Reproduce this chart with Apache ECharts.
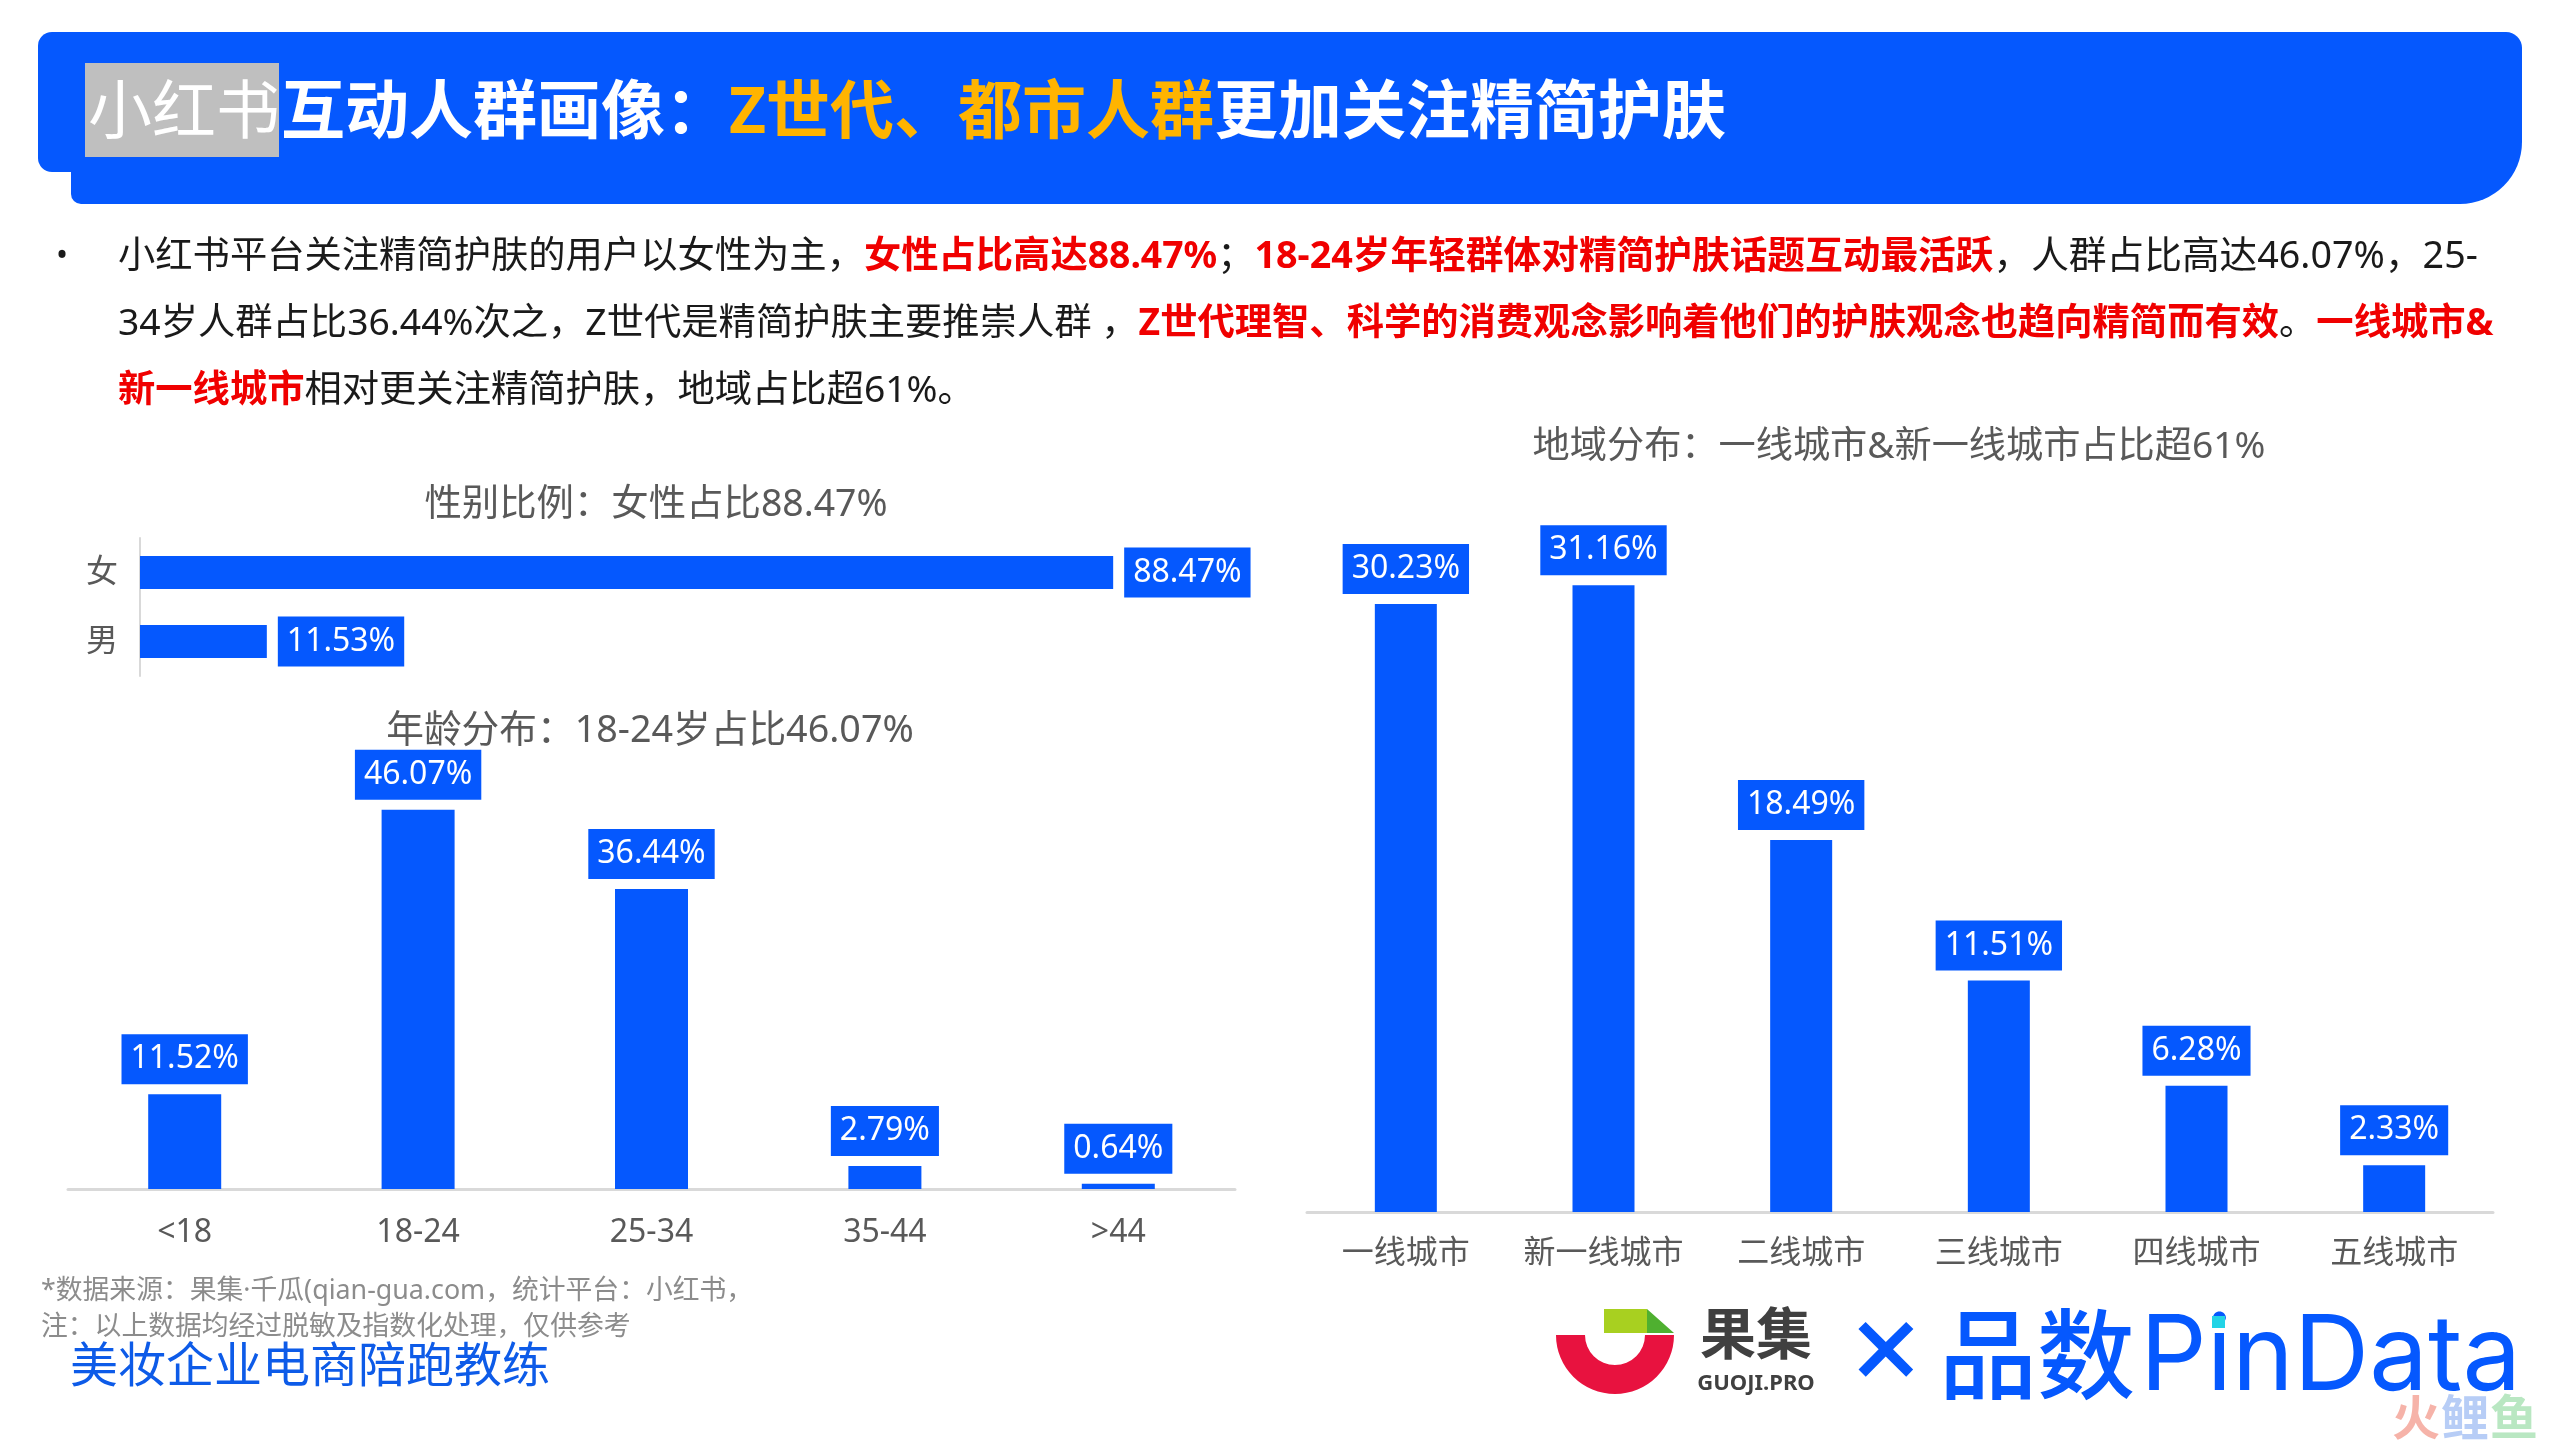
<!DOCTYPE html>
<html>
<head>
<meta charset="utf-8">
<style>
  html, body { margin: 0; padding: 0; background: #fff; }
  #chart { width: 2560px; height: 1440px; }
</style>
<script src="https://cdn.jsdelivr.net/npm/echarts@6/dist/echarts.min.js"></script>
</head>
<body>
<div id="chart"></div>
<script>
// data
var genderCats = ['女', '男'];
var genderVals = [88.47, 11.53];
var ageCats = ['<18', '18-24', '25-34', '35-44', '>44'];
var ageVals = [11.52, 46.07, 36.44, 2.79, 0.64];
var cityCats = ['一线城市', '新一线城市', '二线城市', '三线城市', '四线城市', '五线城市'];
var cityVals = [30.23, 31.16, 18.49, 11.51, 6.28, 2.33];

var BLUE = '#0558fe';
var FONT = '"Noto Sans","Noto Sans CJK SC",sans-serif';
var GREY = '#595959';

function txt(x, y, text, o) {
  o = o || {};
  return {
    type: 'text', x: x, y: y, z: o.z || 10,
    style: {
      text: text,
      fontFamily: o.family || FONT,
      fontSize: o.size || 38,
      fontWeight: o.weight || 'normal',
      fill: o.color || '#1a1a1a',
      align: o.align || 'left',
      verticalAlign: 'middle',
      rich: o.rich
    }
  };
}

// rich styles for the paragraph
function bodyRich(size) {
  return {
    k: { fontFamily: FONT, fontSize: size, fill: '#1a1a1a', color: '#1a1a1a' },
    r: { fontFamily: FONT, fontSize: size, fontWeight: 'bold', fill: '#f00000', color: '#f00000' },
    // the reference runs these two spans a little wider
    k2: { fontFamily: FONT, fontSize: 37.7, fill: '#1a1a1a', color: '#1a1a1a' },
    r2: { fontFamily: FONT, fontSize: 37.7, fontWeight: 'bold', fill: '#f00000', color: '#f00000' }
  };
}
var titleRich = {
  w: { fontFamily: FONT, fontSize: 64, fontWeight: 'bold', fill: '#fff', color: '#fff' },
  y: { fontFamily: FONT, fontSize: 64, fontWeight: 'bold', fill: '#ffb400', color: '#ffb400' }
};

var shapes = [
  // header band
  { type: 'rect', shape: { x: 71, y: 32, width: 2451, height: 172, r: [10, 16, 62, 10] }, style: { fill: BLUE } },
  { type: 'rect', shape: { x: 38, y: 32, width: 80, height: 140, r: [14, 0, 0, 14] }, style: { fill: BLUE } },
  { type: 'rect', shape: { x: 85, y: 63, width: 194, height: 94 }, style: { fill: '#bfbfbf' } },
  // guoji logo
  { type: 'sector', shape: { cx: 1615, cy: 1335, r: 59, r0: 30, startAngle: 0, endAngle: Math.PI }, style: { fill: '#e8123f' } },
  { type: 'rect', shape: { x: 1604, y: 1309, width: 43, height: 24 }, style: { fill: '#a8d020' } },
  { type: 'polygon', shape: { points: [[1647, 1309], [1647, 1333], [1674, 1333]] }, style: { fill: '#4fb030' } },
  // cyan dot of the i in PinData
  { type: 'rect', z: 11, shape: { x: 2212, y: 1316, width: 13, height: 12 }, style: { fill: '#22d3e6' } }
];

var BODY = 37.3;
var texts = [
  txt(88, 115, '小红书', { size: 64, color: '#fff' }),
  txt(281, 115, '{w|互动人群画像：}{y|Z世代、都市人群}{w|更加关注精简护肤}', { rich: titleRich, size: 64 }),

  txt(56, 257, '•', { size: 32 }),
  txt(118, 257, '{k|小红书平台关注精简护肤的用户以女性为主，}{r|女性占比高达88.47%}{k|；}{r2|18-24岁年轻群体对精简护肤话题互动最活跃}{k2|，人群占比高达46.07%，25-}', { rich: bodyRich(BODY) }),
  txt(118, 324, '{k|34岁人群占比36.44%次之，Z世代是精简护肤主要推崇人群 ，}{r|Z世代理智、科学的消费观念影响着他们的护肤观念也趋向精简而有效}{k|。}{r|一线城市&}', { rich: bodyRich(BODY) }),
  txt(118, 391, '{r|新一线城市}{k|相对更关注精简护肤，地域占比超61%。}', { rich: bodyRich(BODY) }),

  txt(656, 505, '性别比例：女性占比88.47%', { size: 37.4, color: GREY, align: 'center' }),
  txt(650, 731, '年龄分布：18-24岁占比46.07%', { size: 37.7, color: GREY, align: 'center' }),
  txt(1899, 447, '地域分布：一线城市&新一线城市占比超61%', { size: 37.2, color: GREY, align: 'center' }),

  txt(41, 1291, '*数据来源：果集·千瓜(qian-gua.com，统计平台：小红书，', { size: 26.8, color: '#8c8c8c' }),
  txt(41, 1327, '注：以上数据均经过脱敏及指数化处理，仅供参考', { size: 26.8, color: '#8c8c8c' }),
  txt(70, 1368, '美妆企业电商陪跑教练', { size: 48, color: '#0d5be8' }),

  txt(1700, 1338, '果集', { size: 56, weight: 'bold', color: '#404040' }),
  txt(1756, 1384, 'GUOJI.PRO', { size: 22, weight: 'bold', color: '#404040', align: 'center' }),
  txt(1886, 1358, '×', { size: 124, weight: 500, color: BLUE, align: 'center' }),
  txt(1939, 1363, '品数', { size: 98, weight: 500, color: BLUE }),
  txt(2140, 1359, 'PinData', { size: 104.5, color: BLUE, family: 'Inter,"Noto Sans",sans-serif' }),
  txt(2392, 1421, '火', { size: 48, weight: 'bold', color: '#f6b3a9' }),
  txt(2441, 1421, '鲤', { size: 48, weight: 'bold', color: '#b7cdf6' }),
  txt(2490, 1421, '鱼', { size: 48, weight: 'bold', color: '#b9e7c2' })
];

function barLabel(pos, dist) {
  return {
    show: true,
    position: pos,
    distance: dist,
    color: '#fff',
    fontFamily: FONT,
    fontSize: 32,
    lineHeight: 38,
    backgroundColor: BLUE,
    padding: [6, 9],
    formatter: function (p) { return p.value.toFixed(2) + '%'; }
  };
}

function catLabel(margin) {
  return { color: GREY, fontFamily: FONT, fontSize: 32, margin: margin, interval: 0 };
}

var chart = echarts.init(document.getElementById('chart'), null, { renderer: 'canvas', devicePixelRatio: 1 });
chart.setOption({
  animation: false,
  backgroundColor: '#fff',
  graphic: { elements: shapes.concat(texts) },
  grid: [
    { left: 140, top: 538, width: 1100, height: 138 },
    { left: 68, top: 777.5, width: 1167, height: 411.5 },
    { left: 1307, top: 512, width: 1186, height: 700 }
  ],
  xAxis: [
    { type: 'value', gridIndex: 0, min: 0, max: 100, show: false },
    { type: 'category', gridIndex: 1, data: ageCats,
      axisTick: { show: false }, axisLine: { lineStyle: { color: '#d9d9d9', width: 3 } }, axisLabel: catLabel(28) },
    { type: 'category', gridIndex: 2, data: cityCats,
      axisTick: { show: false }, axisLine: { lineStyle: { color: '#d9d9d9', width: 3 } }, axisLabel: catLabel(26) }
  ],
  yAxis: [
    { type: 'category', gridIndex: 0, data: genderCats, inverse: true,
      axisTick: { show: false }, axisLine: { lineStyle: { color: '#d9d9d9', width: 2 } }, axisLabel: catLabel(22) },
    { type: 'value', gridIndex: 1, min: 0, max: 50, show: false },
    { type: 'value', gridIndex: 2, min: 0, max: 34.8, show: false }
  ],
  series: [
    { type: 'bar', xAxisIndex: 0, yAxisIndex: 0, data: genderVals, barWidth: 33,
      itemStyle: { color: BLUE }, label: barLabel('right', 11) },
    { type: 'bar', xAxisIndex: 1, yAxisIndex: 1, data: ageVals, barWidth: 73,
      itemStyle: { color: BLUE }, label: barLabel('top', 10) },
    { type: 'bar', xAxisIndex: 2, yAxisIndex: 2, data: cityVals, barWidth: 62,
      itemStyle: { color: BLUE }, label: barLabel('top', 10) }
  ]
});
</script>
</body>
</html>
